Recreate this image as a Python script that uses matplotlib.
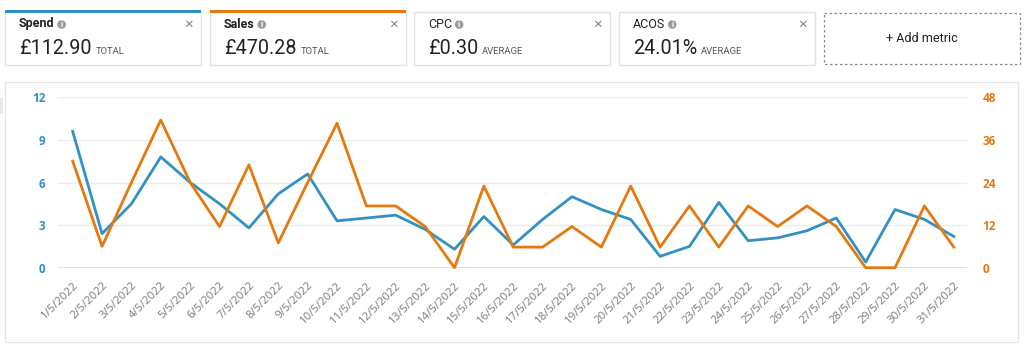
import matplotlib.pyplot as plt
from matplotlib.patches import Rectangle, Circle

# data
dates = [f"{d}/5/2022" for d in range(1, 32)]
spend = [9.6, 2.4, 4.5, 7.8, 6.0, 4.5, 2.8, 5.2, 6.6, 3.3, 3.5, 3.7, 2.7, 1.3, 3.6, 1.6,
         3.4, 5.0, 4.1, 3.4, 0.8, 1.5, 4.6, 1.9, 2.1, 2.6, 3.5, 0.4, 4.1, 3.4, 2.2]
sales = [30, 6, 24, 41.6, 24, 11.6, 29, 7, 24, 40.7, 17.4, 17.4, 11.6, 0, 23, 5.8,
         5.8, 11.6, 5.8, 23, 5.8, 17.4, 5.8, 17.4, 11.6, 17.4, 11.6, 0, 0, 17.4, 5.8]
spend_ticks = [0, 3, 6, 9, 12]
sales_ticks = [0, 12, 24, 36, 48]

cards = [("Spend", "£112.90", "TOTAL"), ("Sales", "£470.28", "TOTAL"),
         ("CPC", "£0.30", "AVERAGE"), ("ACOS", "24.01%", "AVERAGE")]
card_x = [5, 210, 414, 619]

BLUE = "#3391c2"
ORANGE = "#e4790f"
CARD_FONT = ["Roboto", "DejaVu Sans"]

plt.rcParams['font.family'] = ["Open Sans", "DejaVu Sans"]

fig = plt.figure(figsize=(10.24, 3.45), dpi=100)
fig.patch.set_facecolor("white")
renderer = fig.canvas.get_renderer()

# overlay in pixel coordinates for the metric cards and panel frame
bg = fig.add_axes([0, 0, 1, 1])
bg.set_xlim(0, 1024)
bg.set_ylim(345, 0)
bg.axis("off")


def right_edge(t):
    # pixel x of the right side of a text (overlay uses pixel units)
    return t.get_window_extent(renderer).x1


bg.add_patch(Rectangle((5, 82), 1013, 260, fill=False, ec="#e6e6e6", lw=1))
bg.add_patch(Rectangle((0, 98), 3, 16, color="#e8e8e8", lw=0))

for i, (name, val, kind) in enumerate(cards):
    x = card_x[i]
    bg.add_patch(Rectangle((x, 12), 196, 53, fc="white", ec="#e2e2e2", lw=1))
    if i == 0:
        bg.add_patch(Rectangle((x, 10), 196, 3, color=BLUE, lw=0))
    elif i == 1:
        bg.add_patch(Rectangle((x, 10), 196, 3, color=ORANGE, lw=0))
    bold = "bold" if i < 2 else "normal"
    t = bg.text(x + 14, 24, name, fontsize=9, fontweight=bold, color="#222222",
                va="center", ha="left", family=CARD_FONT)
    cx = right_edge(t) + 7
    bg.add_patch(Circle((cx, 24.5), 4.3, color="#9b9b9b", lw=0))
    bg.text(cx, 24.8, "i", fontsize=5.5, color="white", fontweight="bold",
            ha="center", va="center")
    bg.text(x + 183, 25, "×", fontsize=11, color="#777777", ha="center", va="center")
    v = bg.text(x + 14, 48, val, fontsize=14.2, color="#222222", ha="left", va="center",
                family=CARD_FONT)
    bg.text(right_edge(v) + 4, 51.5, kind, fontsize=6.8, color="#555555", ha="left",
            va="center", family=CARD_FONT)

bg.add_patch(Rectangle((824, 13), 196, 51, fill=False, ec="#888888", lw=0.9, ls=(0, (2, 2))))
bg.text(922, 38.5, "+ Add metric", fontsize=9, color="#222222", ha="center", va="center",
        family=CARD_FONT)

# chart
ax = fig.add_axes([58 / 1024, 1 - 267.7 / 345, 909 / 1024, 170.4 / 345])
ax2 = ax.twinx()
x = list(range(len(dates)))

ax.plot(x, spend, color=BLUE, lw=2.0, clip_on=False, zorder=3)
ax2.plot(x, sales, color=ORANGE, lw=2.0, clip_on=False, zorder=3)

ax.set_xlim(-0.5, 30.45)
ax.set_ylim(0, 12)
ax2.set_ylim(0, 48)
ax.set_yticks(spend_ticks)
ax2.set_yticks(sales_ticks)
ax.set_xticks(x)
ax.set_xticklabels(dates, rotation=45, ha="right", rotation_mode="anchor",
                   fontsize=8.2, color="#7a7a7a")

for a in (ax, ax2):
    for s in a.spines.values():
        s.set_visible(False)
    a.patch.set_alpha(0)

ax.grid(axis="y", color="#ececec", lw=1)
ax.axhline(0, color="#c9dcec", lw=1.2, zorder=1)
ax.tick_params(axis="y", length=0, pad=9, labelcolor=BLUE, labelsize=8.5)
ax2.tick_params(axis="y", length=0, pad=11, labelcolor=ORANGE, labelsize=8.5)
ax.tick_params(axis="x", length=0, pad=9)
for lbl in ax.get_yticklabels() + ax2.get_yticklabels():
    lbl.set_fontweight("bold")

fig.savefig("out.png", dpi=100, facecolor="white")
